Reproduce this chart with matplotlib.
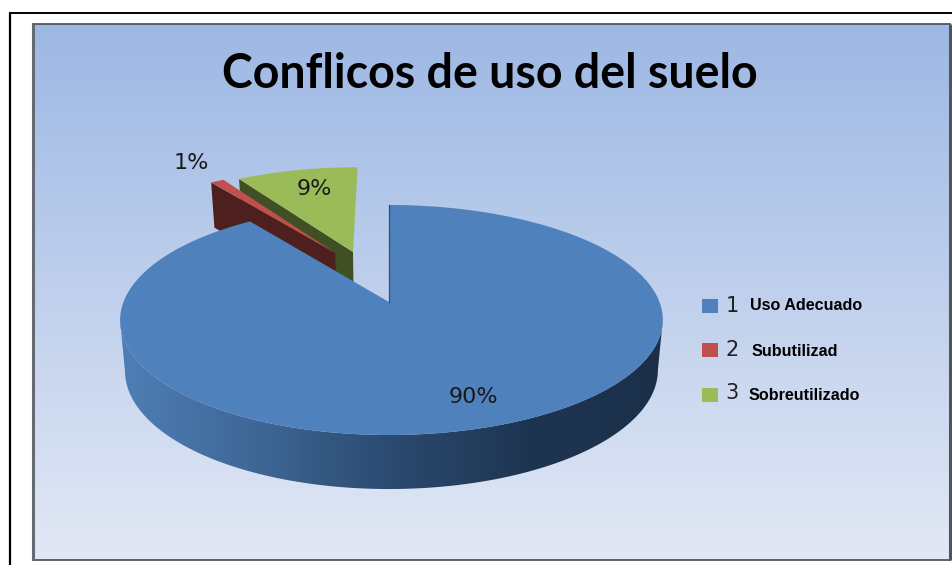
import numpy as np
import matplotlib
matplotlib.use("Agg")
import matplotlib.pyplot as plt
from matplotlib.patches import Polygon, Rectangle
from matplotlib.colors import LinearSegmentedColormap

# ---- data ----
categories = ["Uso Adecuado", "Subutilizad", "Sobreutilizado"]
legend_numbers = ["1", "2", "3"]
values = [90, 1, 9]
title = "Conflicos de uso del suelo"

# ---- style ----
top_colors = ["#4f81bd", "#c0504d", "#9bbb59"]
wall_colors = [None, "#4d1f1e", "#404f24"]
explode = [(0.0, 0.0), (0.516, -24.7), (0.50, -16.8)]   # distance, direction
X0, Y0, A, B, K = 389.0, 302.0, 112.2, 268.0, 0.1564


def project(x, y):
    d = 1 + K * y
    return X0 + B * x / d + 2.5 * x * x, Y0 - A * y / d


def lower(px, py, y):
    return X0 + 1.0 + (px - X0 - 1.0) * 0.982, py + 49.7 / (1 + 0.08 * y)


def slice_outline(a0, a1, off, n=240):
    dist, ang = off
    cx, cy = dist * np.sin(np.radians(ang)), dist * np.cos(np.radians(ang))
    t = np.radians(np.linspace(a0, a1, n))
    return cx + np.sin(t), cy + np.cos(t), cx, cy


fig = plt.figure(figsize=(9.53, 5.65), dpi=100, facecolor="white")
ax = fig.add_axes([0, 0, 1, 1])
ax.set_xlim(0, 953)
ax.set_ylim(565, 0)
ax.axis("off")

# outer frame
ax.plot([10, 10], [565, 12.5], color="black", lw=1.6, zorder=1, solid_capstyle="butt")
ax.plot([9.4, 953], [12.5, 12.5], color="black", lw=1.4, zorder=1, solid_capstyle="butt")

# plate with vertical gradient
bg = LinearSegmentedColormap.from_list("bg", ["#9db8e4", "#e2e8f5"])
ax.imshow(np.linspace(0, 1, 256)[:, None], extent=(33, 950, 560, 24), cmap=bg,
          aspect="auto", zorder=2)
ax.add_patch(Rectangle((33, 24), 917, 536, fc="none", ec="#50565f", lw=1.3, zorder=3))
ax.plot([33.5, 33.5], [24, 560], color="#666b73", lw=2.2, zorder=3, solid_capstyle="butt")
ax.plot([950, 950], [24, 560], color="#50555c", lw=2.2, zorder=3, solid_capstyle="butt")
ax.set_xlim(0, 953)
ax.set_ylim(565, 0)

angles = np.cumsum([0] + values) * 3.6
wall_cmap = LinearSegmentedColormap.from_list(
    "wall", ["#4f7eb6", "#3f6796", "#2b4a70", "#1e3552", "#1b2f49"])

# exploded slices, back to front: green first, red over it
for idx in (2, 1):
    a0, a1 = angles[idx], angles[idx + 1]
    sx, sy, cx, cy = slice_outline(a0, a1, explode[idx])
    tx, ty = project(sx, sy)
    apx, apy = project(cx, cy)
    lx0, ly0 = lower(tx[0], ty[0], sy[0])
    lax, lay = lower(apx, apy, cy)
    ax.add_patch(Polygon([(tx[0], ty[0]), (apx, apy), (lax, lay), (lx0, ly0)],
                         fc=wall_colors[idx], ec="none", zorder=4))
    ax.add_patch(Polygon(np.column_stack([np.r_[tx, apx], np.r_[ty, apy]]),
                         fc=top_colors[idx], ec="none", zorder=5))

# main slice wall with horizontal gradient: front part, between the side extremes
sx, sy, cx, cy = slice_outline(angles[0], angles[1], explode[0], 600)
tx, ty = project(sx, sy)
bx, by = lower(tx, ty, sy)
ir, il = int(np.argmax(tx)), int(np.argmin(tx))
wall = Polygon(np.column_stack([np.r_[tx[ir:il + 1], bx[ir:il + 1][::-1]],
                                np.r_[ty[ir:il + 1], by[ir:il + 1][::-1]]]),
               fc="none", ec="none", transform=ax.transData)
ax.add_patch(wall)
im = ax.imshow(np.linspace(0, 1, 256)[None, :], extent=(118, 665, 500, 300),
               cmap=wall_cmap, aspect="auto", zorder=6)
im.set_clip_path(wall)

apx, apy = project(cx, cy)
ax.add_patch(Polygon(np.column_stack([np.r_[tx, apx], np.r_[ty, apy]]),
                     fc=top_colors[0], ec="none", zorder=7))
ax.plot([tx[0], apx], [ty[0], apy], color="#2f5078", lw=0.9, zorder=8)
ax.set_xlim(0, 953)
ax.set_ylim(565, 0)

# title and labels
ax.text(490, 74, title, family="Lato", weight="bold", fontsize=33.5,
        color="black", ha="center", va="center", zorder=10)

pct_pos = [(473.5, 397), (191, 163), (314, 189)]
for v, (px, py) in zip(values, pct_pos):
    ax.text(px, py, f"{v}%", family="DejaVu Sans", fontsize=16, color="#1a1a1a",
            ha="center", va="center", zorder=10)

# legend
mark_y = [306, 350, 395]
num_y = [306, 350, 393]
lab_y = [306, 352, 396]
num_x = 732
lab_x = [750, 752, 748.5]
for i, (cat, num) in enumerate(zip(categories, legend_numbers)):
    ax.add_patch(Rectangle((702, mark_y[i] - 7), 16, 14, fc=top_colors[i], ec="none", zorder=10))
    ax.text(num_x, num_y[i], num, family="DejaVu Sans", fontsize=15, color="#222222",
            ha="center", va="center", zorder=10)
    ax.text(lab_x[i], lab_y[i], cat, family="Liberation Sans", weight="bold",
            fontsize=11.6, color="black", ha="left", va="center", zorder=10)

fig.savefig("out.png", dpi=100, facecolor="white")
